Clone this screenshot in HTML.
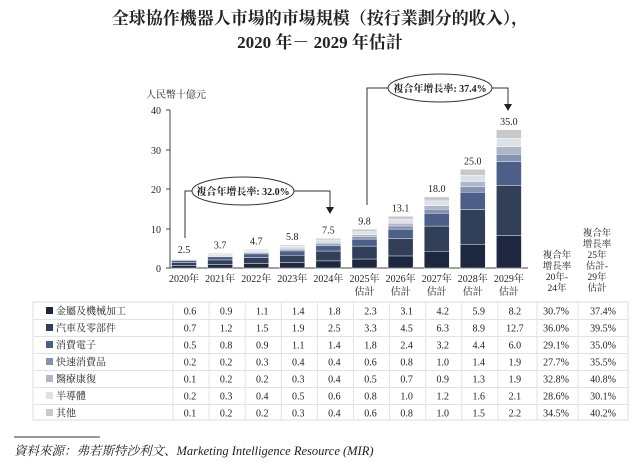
<!DOCTYPE html>
<html><head><meta charset="utf-8"><style>
body{margin:0;background:#fff;width:640px;height:471px;overflow:hidden}
svg text{font-family:"Liberation Serif","Noto Serif CJK SC","Noto Sans CJK TC",serif;fill:#222}
</style></head><body>
<svg id="s" width="640" height="471" viewBox="0 0 640 471" xmlns="http://www.w3.org/2000/svg">
<text x="320" y="24" font-size="17" font-weight="bold" text-anchor="middle">全球協作機器人市場的市場規模（按行業劃分的收入），</text>
<text x="320" y="48" font-size="17" font-weight="bold" text-anchor="middle">2020 年－ 2029 年估計</text>
<text x="146" y="98" font-size="10">人民幣十億元</text>
<line x1="170" y1="110" x2="170" y2="268" stroke="#444" stroke-width="1"/>
<line x1="170" y1="268" x2="528" y2="268" stroke="#444" stroke-width="1"/>
<g font-size="10" text-anchor="end">
<text x="161" y="272">0</text><text x="161" y="233">10</text><text x="161" y="193">20</text><text x="161" y="154">30</text><text x="161" y="114">40</text>
</g>
<g stroke="#444"><line x1="166" y1="268" x2="170" y2="268"/><line x1="166" y1="229" x2="170" y2="229"/><line x1="166" y1="189" x2="170" y2="189"/><line x1="166" y1="150" x2="170" y2="150"/><line x1="166" y1="110" x2="170" y2="110"/></g>
<g id="bars"></g>
<g fill="none" stroke="#333" stroke-width="1">
<polyline points="185,238 185,191 192,191"/>
<polyline points="294,191 330,191 330,207"/>
<ellipse cx="243" cy="191" rx="51" ry="14"/>
<polyline points="367,205 367,88 388,88"/>
<polyline points="492,88 508,88 508,104"/>
<ellipse cx="440" cy="88" rx="52" ry="14"/>
</g>
<polygon points="326,207 334,207 330,214" fill="#222"/>
<polygon points="504,104 512,104 508,111" fill="#222"/>
<text x="243" y="195" font-size="10" font-weight="bold" text-anchor="middle">複合年增長率: 32.0%</text>
<text x="440" y="92" font-size="10" font-weight="bold" text-anchor="middle">複合年增長率: 37.4%</text>
<g font-size="9.5" text-anchor="middle">
<text x="557" y="258">複合年</text><text x="557" y="269">增長率</text><text x="557" y="280">20年-</text><text x="557" y="291">24年</text>
<text x="597" y="236">複合年</text><text x="597" y="247">增長率</text><text x="597" y="258">25年</text><text x="597" y="269">估計-</text><text x="597" y="280">29年</text><text x="597" y="291">估計</text>
</g>
<g id="tbl"></g>
<line x1="14" y1="437" x2="100" y2="437" stroke="#333"/>
<text x="14" y="455" font-size="12.5" font-style="italic">資料來源：弗若斯特沙利文、Marketing Intelligence Resource (MIR)</text>
</svg>
<script>
var d=[[.6,.9,1.1,1.4,1.8,2.3,3.1,4.2,5.9,8.2],[.7,1.2,1.5,1.9,2.5,3.3,4.5,6.3,8.9,12.7],[.5,.8,.9,1.1,1.4,1.8,2.4,3.2,4.4,6.0],[.2,.2,.3,.4,.4,.6,.8,1.0,1.4,1.9],[.1,.2,.2,.3,.4,.5,.7,.9,1.3,1.9],[.2,.3,.4,.5,.6,.8,1.0,1.2,1.6,2.1],[.1,.2,.2,.3,.4,.6,.8,1.0,1.5,2.2]];
var tot=[2.5,3.7,4.7,5.8,7.5,9.8,13.1,18.0,25.0,35.0];
var col=["#1d2840","#313f58","#4b5f88","#8592b0","#aeb7ca","#dde1e8","#c9c9c9"];
var names=["金屬及機械加工","汽車及零部件","消費電子","快速消費品","醫療康復","半導體","其他"];
var c1=["30.7%","36.0%","29.1%","27.7%","32.8%","28.6%","34.5%"],c2=["37.4%","39.5%","35.0%","35.5%","40.8%","30.1%","40.2%"];
var h="";
for(var i=0;i<10;i++){var cx=184+i*36.1,acc=0;
 var sc=tot[i]/d.reduce(function(a,r){return a+r[i]},0);
 for(var k=0;k<7;k++){var v=d[k][i]*sc;var y0=268-acc*3.95,y1=268-(acc+v)*3.95;h+='<rect x="'+(cx-12.5)+'" y="'+y1+'" width="25" height="'+(y0-y1)+'" fill="'+col[k]+'" stroke="#fff" stroke-width="0.4"/>';acc+=v;}
 h+='<text x="'+cx+'" y="'+(268-tot[i]*3.95-5)+'" font-size="10" text-anchor="middle">'+tot[i].toFixed(1)+'</text>';
 h+='<text x="'+cx+'" y="282" font-size="10" text-anchor="middle">'+(2020+i)+'年</text>';
 if(i>=5)h+='<text x="'+cx+'" y="295" font-size="10" text-anchor="middle">估計</text>';}
document.getElementById("bars").innerHTML=h;
h='<rect x="33" y="302" width="595" height="118" fill="none" stroke="#ddd"/>';
for(var k=0;k<7;k++){var y=311+k*17;
 if(k>0)h+='<line x1="33" y1="'+(y-8.5)+'" x2="628" y2="'+(y-8.5)+'" stroke="#e2e2e2"/>';
 h+='<rect x="46" y="'+(y-4)+'" width="7" height="7" fill="'+col[k]+'"/><text x="56" y="'+(y+3.5)+'" font-size="10">'+names[k]+'</text>';
 for(var i=0;i<10;i++)h+='<text x="'+(190+i*36.1)+'" y="'+(y+3.5)+'" font-size="10" text-anchor="middle">'+d[k][i].toFixed(1)+'</text>';
 h+='<text x="556" y="'+(y+3.5)+'" font-size="10" text-anchor="middle">'+c1[k]+'</text><text x="603" y="'+(y+3.5)+'" font-size="10" text-anchor="middle">'+c2[k]+'</text>';}
for(var i=0;i<12;i++){var x=i<10?173+i*36.1:(i==10?537:578);h+='<line x1="'+x+'" y1="302" x2="'+x+'" y2="420" stroke="#e2e2e2"/>';}
document.getElementById("tbl").innerHTML=h;
</script>
</body></html>
